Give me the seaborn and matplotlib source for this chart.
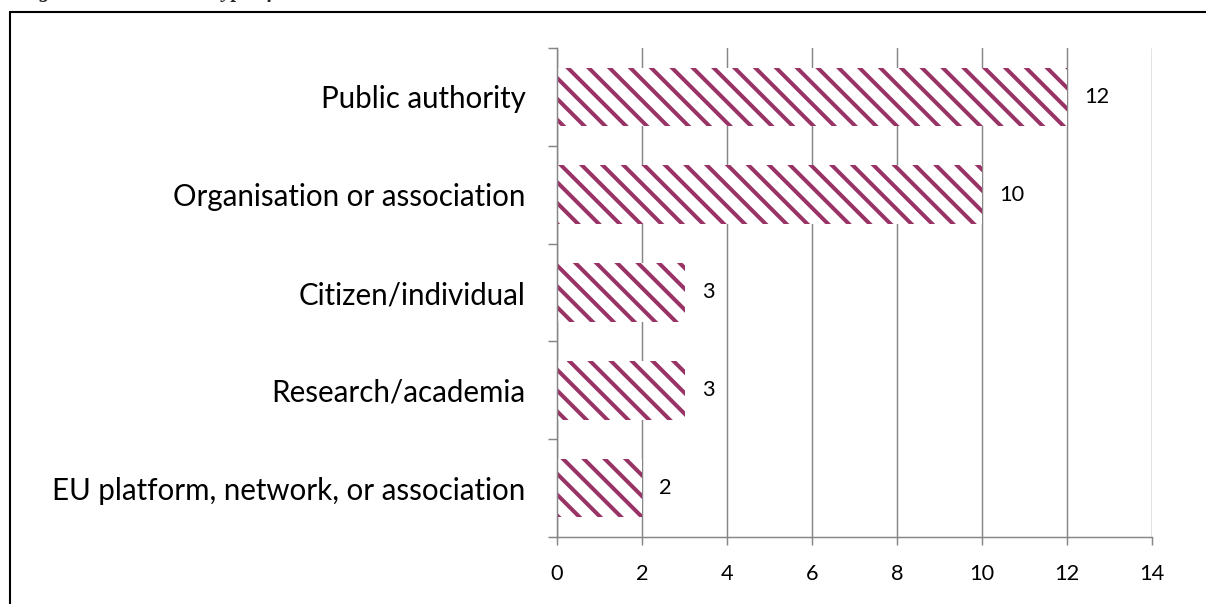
import matplotlib
matplotlib.use("Agg")
import matplotlib.pyplot as plt
import seaborn as sns
from matplotlib.lines import Line2D
from matplotlib.ticker import MultipleLocator, FixedLocator

# data
categories = [
    "Public authority",
    "Organisation or association",
    "Citizen/individual",
    "Research/academia",
    "EU platform, network, or association",
]
counts = [12, 10, 3, 3, 2]

BAR_COLOR = "#993366"
GRID_COLOR = "#868686"
DPI = 125
W, H = 1206, 604

sns.set_theme(style="white")
plt.rcParams["font.family"] = ["Lato", "DejaVu Sans"]
plt.rcParams["hatch.linewidth"] = 2.3

fig = plt.figure(figsize=(W / DPI, H / DPI), dpi=DPI)
ax = fig.add_axes([557 / W, 1 - 537 / H, 595 / W, 489 / H])

sns.barplot(x=counts, y=categories, orient="h", width=0.6, ax=ax,
            color="white", saturation=1)
for bar in ax.patches:
    bar.set_facecolor("white")
    bar.set_edgecolor(BAR_COLOR)
    bar.set_hatch("\\\\")
    bar.set_linewidth(0)

ax.bar_label(ax.containers[0], labels=[str(v) for v in counts],
             padding=10, fontsize=12.5, color="black")

ax.set_xlim(0, 14)
ax.set_ylim(4.5, -0.5)
ax.xaxis.set_major_locator(MultipleLocator(2))
ax.grid(axis="x", color=GRID_COLOR, linewidth=0.85)
ax.set_axisbelow(True)

# category separators as ticks on the y axis
ax.yaxis.set_minor_locator(FixedLocator([i - 0.5 for i in range(len(categories) + 1)]))
ax.tick_params(axis="y", which="major", length=0, pad=18, labelsize=17)
ax.tick_params(axis="y", which="minor", length=5.2, width=0.85, color=GRID_COLOR, left=True)
ax.tick_params(axis="x", which="major", length=4.6, width=0.85, color=GRID_COLOR,
               bottom=True, pad=11, labelsize=12.5)
for lab in ax.get_yticklabels() + ax.get_xticklabels():
    lab.set_color("black")

sns.despine(ax=ax, top=True, right=True)
for side in ("left", "bottom"):
    ax.spines[side].set_color(GRID_COLOR)
    ax.spines[side].set_linewidth(0.85)
ax.set_xlabel("")
ax.set_ylabel("")

# frame around the chart (open to the right and bottom of the crop)
fig.add_artist(Line2D([10 / W, 10 / W], [1 - 12 / H, 0], color="black", linewidth=1.2,
                      transform=fig.transFigure))
fig.add_artist(Line2D([10 / W, 1], [1 - 12 / H, 1 - 12 / H], color="black", linewidth=1.2,
                      transform=fig.transFigure))

# caption clipped at the top edge, only descenders remain
fig.text(20 / W, 1 + 3 / H, "Figure 6: Stakeholder type of contributors",
         fontfamily="Liberation Serif", fontstyle="italic", fontweight="bold",
         fontsize=21 / DPI * 72, va="baseline", ha="left")

fig.savefig("out.png", dpi=DPI)
